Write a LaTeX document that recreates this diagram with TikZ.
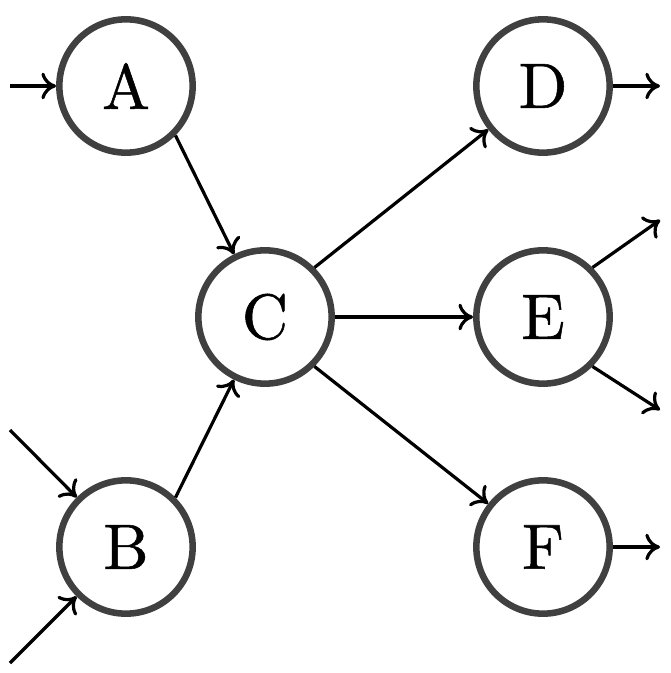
\documentclass[tikz,border=0pt]{standalone}
\usepackage{fontspec}
\usetikzlibrary{arrows.meta}
\newfontfamily\lmten{lmroman10-regular.otf}[FakeBold=0.8]
\definecolor{ring}{HTML}{404040}
\begin{document}
\begin{tikzpicture}[x=0.75pt,y=-0.75pt,
  state/.style={circle,draw=ring,line width=4.9pt,fill=white,minimum size=100pt,inner sep=0pt,font=\lmten\fontsize{48}{54}\selectfont},
  edge/.style={-{To[length=11pt,width=20pt]},line width=2.4pt}]
\useasboundingbox (0,0) rectangle (670,673);
\node[state] (A) at (126,86) {A};
\node[state] (B) at (126,547) {B};
\node[state] (C) at (265,317) {C};
\node[state] (D) at (543,86) {D};
\node[state] (E) at (543,317) {E};
\node[state] (F) at (543,547) {F};
\coordinate (ain) at (10,86);
\coordinate (bin1) at (10,430);
\coordinate (bin2) at (10,663);
\coordinate (dout) at (660,86);
\coordinate (eout1) at (660,220);
\coordinate (eout2) at (660,410);
\coordinate (fout) at (660,547);
\draw[edge] (ain) -- (A);
\draw[edge] (bin1) -- (B);
\draw[edge] (bin2) -- (B);
\draw[edge] (A.south east) -- (C);
\draw[edge] (B.north east) -- (C);
\draw[edge] (C.north east) -- (D);
\draw[edge] (C) -- (E);
\draw[edge] (C.south east) -- (F);
\draw[edge] (D) -- (dout);
\draw[edge] (E.north east) -- (eout1);
\draw[edge] (E.south east) -- (eout2);
\draw[edge] (F) -- (fout);
\end{tikzpicture}
\end{document}
